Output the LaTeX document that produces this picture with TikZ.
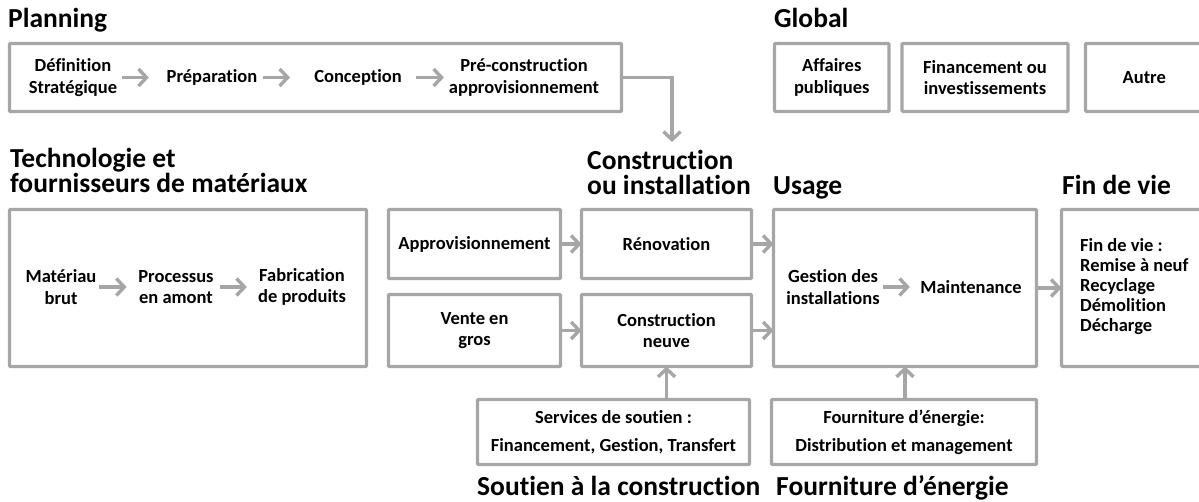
\documentclass[tikz,border=0pt]{standalone}
\usepackage{fontspec}
\setmainfont{Carlito}[Ligatures=NoCommon]
\usetikzlibrary{arrows.meta}
\definecolor{edge}{RGB}{166,166,166}
\begin{document}
\begin{tikzpicture}[x=1pt,y=-1pt,
  panel/.style={draw=edge, line width=3.2pt, rounded corners=1pt, inner sep=0pt, outer sep=0pt,
    align=center, font=\bfseries\fontsize{18.5}{21.5}\selectfont},
  txt/.style={align=center, inner sep=0pt, font=\bfseries\fontsize{18.5}{21.5}\selectfont},
  heading/.style={anchor=base west, inner sep=0pt, font=\bfseries\fontsize{27.5}{28}\selectfont},
  link/.style={draw=edge, line width=3.4pt, -{Straight Barb[length=8pt,width=17pt]}},
]
\useasboundingbox (0,0) rectangle (1199,502);
\clip (0,0) rectangle (1199,502);

% ---- Planning ----
\node[heading] (tplan) at (8,28) {Planning};
\node[panel, minimum width=612pt, minimum height=68pt] (plan) at (315.5,77.5) {};
\node[txt] (def) at (73,77.5) {Définition\\Stratégique};
\node[txt] (prep) at (212,77.5) {Préparation};
\node[txt] (conc) at (358,77.5) {Conception};
\node[txt] (prec) at (524,77.5) {Pré-construction\\approvisionnement};
\draw[link] ([xshift=4.5pt]def.east) -- ++(27,0);
\draw[link] ([xshift=5.5pt]prep.east) -- ++(27,0);
\draw[link] ([xshift=14pt]conc.east) -- ++(28,0);

% ---- Global ----
\node[heading] (tglob) at (774,28) {Global};
\node[panel, minimum width=114.5pt, minimum height=68pt] (aff) at (831.75,77.5) {Affaires\\publiques};
\node[panel, minimum width=166pt, minimum height=68pt] (fin) at (985,77.5) {Financement ou\\investissements};
\node[panel, minimum width=117.5pt, minimum height=68pt] (autre) at (1144.25,77.5) {Autre};

% ---- Technologie et fournisseurs ----
\node[heading] (ttech1) at (10,168) {Technologie et};
\node[heading] (ttech2) at (10,193) {fournisseurs de matériaux};
\node[panel, minimum width=357pt, minimum height=157pt] (tech) at (188,288) {};
\node[txt] (mat) at (61,287) {Matériau\\brut};
\node[txt] (proc) at (176,287) {Processus\\en amont};
\node[txt] (fab) at (302,287) {Fabrication\\de produits};
\draw[link] ([xshift=2pt]mat.east) -- ++(28,0);
\draw[link] ([xshift=6pt]proc.east) -- ++(27,0);

% ---- Construction ----
\node[heading] (tcons1) at (587,170) {Construction};
\node[heading] (tcons2) at (587,195) {ou installation};
\node[panel, minimum width=172pt, minimum height=69pt] (appro) at (474.5,244) {Approvisionnement};
\node[panel, minimum width=170pt, minimum height=69pt] (reno) at (666.5,244) {Rénovation};
\node[panel, minimum width=172pt, minimum height=72pt] (vente) at (474.5,330.5) {Vente en\\gros};
\node[panel, minimum width=170pt, minimum height=72pt] (neuve) at (666.5,330.5) {Construction\\neuve};
\draw[link] (appro) -- (reno);
\draw[link] (vente) -- (neuve);

% ---- Usage ----
\node[heading] (tusage) at (773,195) {Usage};
\node[panel, minimum width=263pt, minimum height=157pt] (usage) at (905,288) {};
\node[txt] (ges) at (833,287) {Gestion des\\installations};
\node[txt] (maint) at (971,287) {Maintenance};
\draw[link] ([xshift=3pt]ges.east) -- ++(27,0);
\draw[link] (reno.east) -- (reno.east -| usage.west);
\draw[link] (neuve.east) -- (neuve.east -| usage.west);

% ---- Fin de vie ----
\node[heading] (tfdv) at (1062,195) {Fin de vie};
\node[panel, minimum width=141.5pt, minimum height=157pt] (fdv) at (1132.25,288) {};
\node[txt, align=left, anchor=west, font=\bfseries\fontsize{18.5}{20}\selectfont] (fdvt) at (1080,287)
  {Fin de vie :\\Remise à neuf\\Recyclage\\Démolition\\Décharge};
\draw[link] (usage) -- (fdv);

% ---- Soutien et énergie ----
\node[panel, minimum width=272pt, minimum height=65pt, font=\bfseries\fontsize{18.5}{28}\selectfont] (serv) at (613.5,432)
  {Services de soutien :\\Financement, Gestion, Transfert};
\node[panel, minimum width=265pt, minimum height=65pt, font=\bfseries\fontsize{18.5}{28}\selectfont] (four) at (904,432)
  {Fourniture d’énergie:\\Distribution et management};
\node[heading] (tsout) at (477,495) {Soutien à la construction};
\node[heading] (tfour) at (776,495) {Fourniture d’énergie};
\draw[link] (serv.north -| neuve) -- (neuve.south);
\draw[link] (four.north -| usage) -- (usage.south);

% ---- Planning into construction ----
\coordinate (drop) at (672,142);
\draw[link] (plan.east) -| (drop);
\end{tikzpicture}
\end{document}
